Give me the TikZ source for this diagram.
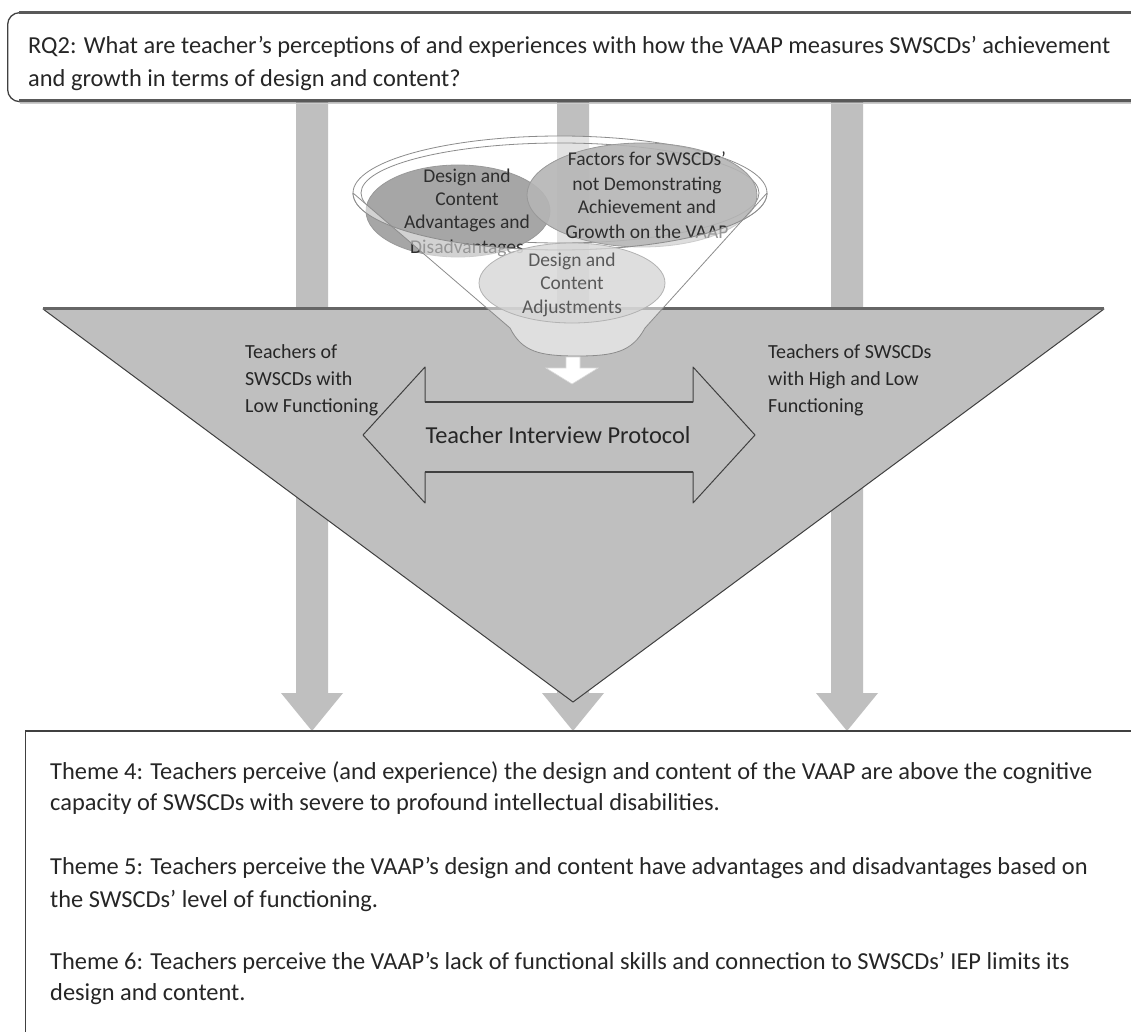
\documentclass[tikz,border=0pt]{standalone}
\usepackage{fontspec}
\setmainfont{Carlito}
\definecolor{shadegrey}{HTML}{BFBFBF}
\definecolor{edge}{HTML}{404040}
\definecolor{txt}{HTML}{262626}
\definecolor{ovaltxt}{HTML}{2E2E2E}
\definecolor{adjtxt}{HTML}{595959}
\tikzset{
  bigtext/.style={anchor=base west, inner sep=0pt, text=txt, font=\fontsize{24.4}{30}\selectfont},
  labeltext/.style={anchor=base west, inner sep=0pt, text=txt, font=\fontsize{20}{24}\selectfont},
  ovaltext/.style={anchor=base, inner sep=0pt, text=ovaltxt, font=\fontsize{19.5}{23}\selectfont},
  shaftarrow/.style={fill=shadegrey, draw=none},
  tribox/.style={fill=shadegrey, draw=edge, line width=1pt, line join=round},
  framebox/.style={draw=edge, line width=1.3pt, fill=white},
  rimline/.style={draw=black!45, line width=0.8pt},
}
\begin{document}
\begin{tikzpicture}[x=1pt,y=-1pt]
\clip (0,0) rectangle (1131,1032);
\fill[white] (0,0) rectangle (1131,1032);

% ---- three down block arrows (behind everything)
\foreach \cx in {312,573,847} {
  \fill[shaftarrow] ({\cx-16},101) -- ({\cx+16},101) -- ({\cx+16},693) -- ({\cx+31},693)
     -- (\cx,731) -- ({\cx-31},693) -- ({\cx-16},693) -- cycle;
}

% ---- top question box
\node (rq) [framebox, rounded corners=12pt, anchor=north west, minimum width=1150pt, minimum height=89pt, inner sep=0pt] at (7,12) {};
\draw[black!65, line width=2.5pt] (19,12.5) -- (1131,12.5);
\draw[black!65, line width=2.5pt] (19,100.5) -- (1131,100.5);
\draw[black!20, line width=1.5pt] (20,103.5) -- (1131,103.5);
\node (rq1) [bigtext] at (28,54) {RQ2: What are teacher’s perceptions of and experiences with how the VAAP measures SWSCDs’ achievement};
\node (rq2) [bigtext] at (28,87) {and growth in terms of design and content?};

% ---- big inverted triangle
\draw[tribox] (43,309) -- (1104,309) -- (573,702) -- cycle;
\draw[black!60, line width=3pt] (43,308.5) -- (1104,308.5);

% ---- funnel rim
\fill[white, opacity=0.55] (560,193) ellipse [x radius=207, y radius=57];
\draw[rimline] (560,193) ellipse [x radius=207, y radius=57];
\draw[rimline] (560,193) ellipse [x radius=199, y radius=50];

% ---- ovals inside the funnel
\draw[fill=black!35, draw=black!40, line width=0.8pt] (458,211) ellipse [x radius=92, y radius=46];
\draw[fill=black!29, fill opacity=0.9, draw=black!40, line width=0.8pt] (642,195) ellipse [x radius=115, y radius=52];

\node (o1a) [ovaltext] at (467,183) {Design and};
\node (o1b) [ovaltext] at (467,206) {Content};
\node (o1c) [ovaltext] at (467,229) {Advantages and};
\node (o1d) [ovaltext] at (467,253) {Disadvantages};

\node (o2a) [ovaltext] at (647,166) {Factors for SWSCDs’};
\node (o2b) [ovaltext] at (647,191) {not Demonstrating};
\node (o2c) [ovaltext] at (647,214) {Achievement and};
\node (o2d) [ovaltext] at (647,238) {Growth on the VAAP};

% ---- funnel body (translucent, below the front of the rim)
\path[fill=white, fill opacity=0.5] (353,193) -- (510,328) .. controls (522,352) and (540,356) .. (577,356)
   .. controls (614,356) and (632,352) .. (645,328) -- (767,193)
   arc[start angle=0, end angle=180, x radius=207, y radius=57] -- cycle;
\draw[rimline] (353,193) -- (510,328) .. controls (522,352) and (540,356) .. (577,356)
   .. controls (614,356) and (632,352) .. (645,328) -- (767,193);
\draw[rimline] (767,193) arc[start angle=0, end angle=180, x radius=207, y radius=57];

% ---- adjustments oval
\draw[fill=black!16, fill opacity=0.8, draw=black!30, line width=0.8pt] (572,283) ellipse [x radius=93, y radius=40];
\node (o3a) [ovaltext, text=adjtxt] at (572,266) {Design and};
\node (o3b) [ovaltext, text=adjtxt] at (572,289) {Content};
\node (o3c) [ovaltext, text=adjtxt] at (572,313) {Adjustments};

% ---- small white arrow under funnel
\draw[fill=white, draw=black!15, line width=0.6pt] (566,357) -- (580,357) -- (580,368) -- (598,368)
   -- (572,384) -- (546,368) -- (566,368) -- cycle;

% ---- double-headed block arrow
\draw[tribox] (363,435) -- (425,367) -- (425,402) -- (693,402) -- (693,367) -- (755,435)
   -- (693,503) -- (693,472) -- (425,472) -- (425,503) -- cycle;
\draw[edge, line width=2pt] (425,402) -- (693,402);
\draw[edge, line width=2pt] (425,472) -- (693,472);
\node (tip) [anchor=base, inner sep=0pt, text=txt, font=\fontsize{24.4}{30}\selectfont] at (558,443) {Teacher Interview Protocol};

% ---- side labels
\node (l1) [labeltext] at (245,358) {Teachers of};
\node (l2) [labeltext] at (245,385) {SWSCDs with};
\node (l3) [labeltext] at (245,412) {Low Functioning};
\node (r1) [labeltext] at (768,358) {Teachers of SWSCDs};
\node (r2) [labeltext] at (768,385) {with High and Low};
\node (r3) [labeltext] at (768,412) {Functioning};

% ---- bottom themes box
\node (themes) [framebox, anchor=north west, minimum width=1130pt, minimum height=330pt, inner sep=0pt] at (25,731) {};
\draw[edge, line width=2.5pt] (25,731) -- (1131,731);
\node (t4a) [bigtext] at (50,779) {Theme 4: Teachers perceive (and experience) the design and content of the VAAP are above the cognitive};
\node (t4b) [bigtext] at (50,810) {capacity of SWSCDs with severe to profound intellectual disabilities.};
\node (t5a) [bigtext] at (50,874) {Theme 5: Teachers perceive the VAAP’s design and content have advantages and disadvantages based on};
\node (t5b) [bigtext] at (50,907) {the SWSCDs’ level of functioning.};
\node (t6a) [bigtext] at (50,969) {Theme 6: Teachers perceive the VAAP’s lack of functional skills and connection to SWSCDs’ IEP limits its};
\node (t6b) [bigtext] at (50,1000) {design and content.};
\end{tikzpicture}
\end{document}
